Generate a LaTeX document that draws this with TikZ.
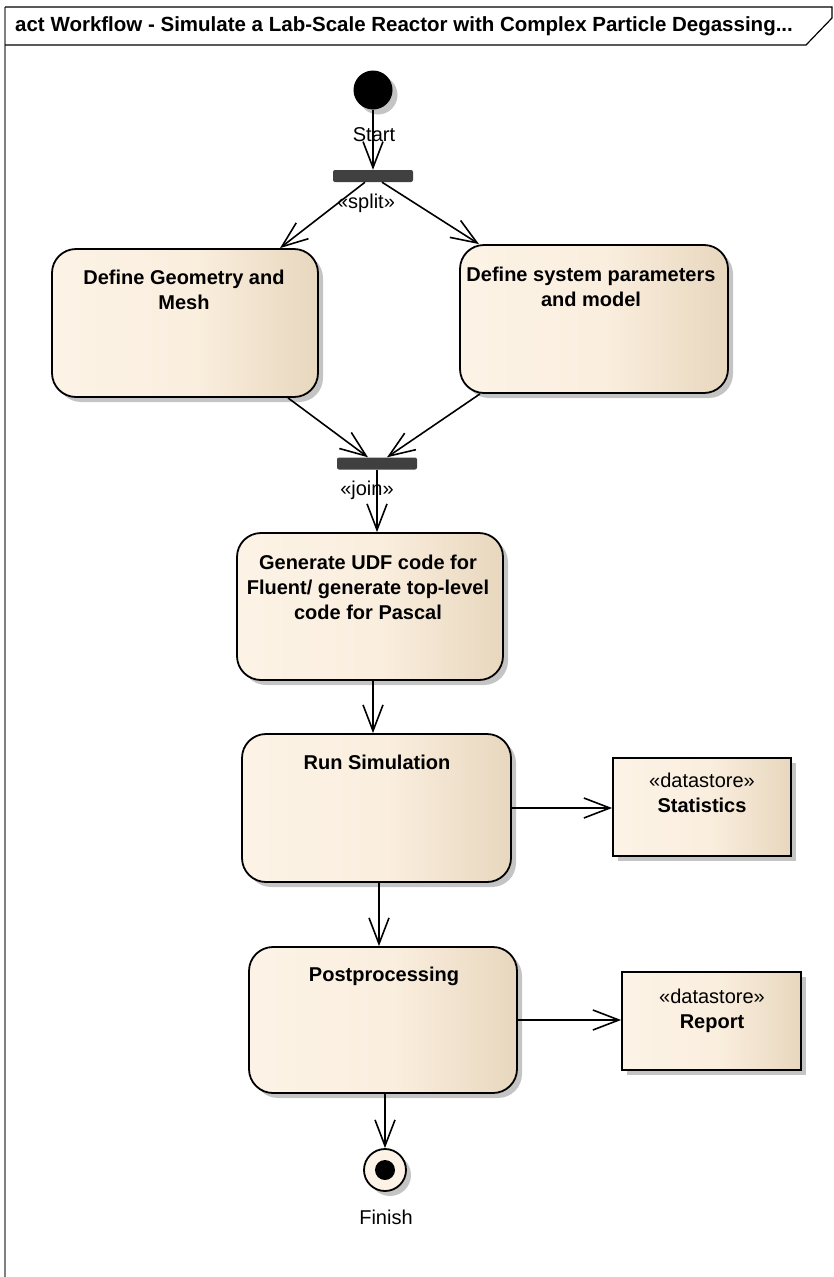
\documentclass[tikz,border=0pt]{standalone}
\usepackage{fontspec}
\setmainfont{Liberation Sans}
\usetikzlibrary{arrows.meta,shadows}

\definecolor{creamL}{RGB}{252,243,230}
\definecolor{creamM}{RGB}{250,238,222}
\definecolor{creamR}{RGB}{232,215,190}
\definecolor{shadowgray}{RGB}{196,196,196}
\definecolor{framegray}{RGB}{128,128,128}
\definecolor{bargray}{RGB}{64,64,64}

% left-to-right cream fill used by actions and datastores
\pgfdeclarehorizontalshading{actshade}{100bp}{%
  color(0bp)=(creamL); color(25bp)=(creamL); color(52bp)=(creamM);
  color(75bp)=(creamR); color(100bp)=(creamR)}

\tikzset{
  txt/.style={font=\fontsize{20}{25}\selectfont, inner sep=0pt, align=center},
  boldtxt/.style={txt, font=\fontsize{20}{25}\selectfont\bfseries},
  boxshadow/.style={general shadow={fill=shadowgray, shadow xshift=5pt, shadow yshift=-5pt}},
  action/.style={draw=black, line width=1.8pt, rounded corners=24pt, shading=actshade,
                 inner sep=0pt, boxshadow},
  datastore/.style={draw=black, line width=1.8pt, shading=actshade, inner sep=0pt, boxshadow},
  forkbar/.style={fill=bargray, rounded corners=2pt, inner sep=0pt,
                  minimum width=80pt, minimum height=12pt},
  flow/.style={line width=1.6pt, -{Straight Barb[length=26pt,width=20pt,line width=1.6pt]}},
}

\begin{document}
\begin{tikzpicture}[x=1pt,y=-1pt]
\useasboundingbox (0,0) rectangle (834,1277);

% diagram frame and title tab
\draw[framegray, line width=1.5pt] (5,7) -- (5,1277);
\draw[black, line width=1.2pt] (5,7) -- (832,7) -- (832,18) -- (806,45) -- (5,45);
\node[boldtxt, font=\fontsize{20.5}{25}\selectfont\bfseries, anchor=west] (title) at (15,26)
  {act Workflow - Simulate a Lab-Scale Reactor with Complex Particle Degassing...};

% initial node and split
\node[circle, fill=black, minimum size=39pt, inner sep=0pt, boxshadow] (start) at (373,90) {};
\node[txt] (startlbl) at (374,135) {Start};
\node[forkbar] (split) at (373,176) {};
\node[txt] (splitlbl) at (366,203) {«split»};

% parallel actions
\node[action, minimum width=266pt, minimum height=148pt] (geom) at (185,323) {};
\node[boldtxt, anchor=north] (geomtxt) at (184,270) {Define Geometry and\\Mesh};
\node[action, minimum width=268pt, minimum height=148pt] (sys) at (594,319) {};
\node[boldtxt, anchor=north] (systxt) at (591,267) {Define system parameters\\and model};

% join
\node[forkbar] (join) at (377,463.5) {};
\node[txt] (joinlbl) at (367,490) {«join»};

% sequential actions
\node[action, minimum width=266pt, minimum height=147pt] (gen) at (370,606.5) {};
\node[boldtxt, anchor=north] (gentxt) at (368,555)
  {Generate UDF code for\\Fluent/ generate top-level\\code for Pascal};
\node[action, minimum width=269pt, minimum height=148pt] (run) at (376.5,808) {};
\node[boldtxt, anchor=north] (runtxt) at (377,755) {Run Simulation};
\node[action, minimum width=268pt, minimum height=146pt] (post) at (383,1020) {};
\node[boldtxt, anchor=north] (posttxt) at (384,967) {Postprocessing};

% datastores
\node[datastore, minimum width=178pt, minimum height=98pt] (stat) at (702,807) {};
\node[txt, anchor=north] (stattxt) at (702,773) {«datastore»\\\bfseries Statistics};
\node[datastore, minimum width=179pt, minimum height=98pt] (report) at (711.5,1021) {};
\node[txt, anchor=north] (reporttxt) at (712,989) {«datastore»\\\bfseries Report};

% final node
\node[circle, draw=black, line width=1.8pt, fill=creamL, minimum size=42pt, inner sep=0pt,
      boxshadow] (finish) at (385,1170) {};
\node[circle, fill=black, minimum size=20pt, inner sep=0pt] (finishdot) at (finish.center) {};
\node[txt] (finishlbl) at (386,1217) {Finish};

% control flows
\draw[flow] (start.south) -- (split.north);
\draw[flow] ([xshift=-8pt]split.south) -- ([xshift=95pt]geom.north);
\draw[flow] ([xshift=9pt]split.south) -- ([xshift=-115pt]sys.north);
\draw[flow] ([xshift=103pt]geom.south) -- ([xshift=-9pt]join.north);
\draw[flow] ([xshift=-114pt]sys.south) -- ([xshift=10pt]join.north);
\draw[flow] (join.south) -- (join.south |- gen.north);
\draw[flow] ([xshift=3pt]gen.south) -- ([xshift=3pt]gen.south |- run.north);
\draw[flow] ([xshift=2.5pt]run.south) -- ([xshift=2.5pt]run.south |- post.north);
\draw[flow] ([xshift=2pt]post.south) -- (finish.north);
\draw[flow] (run.east) -- (run.east -| stat.west);
\draw[flow] (post.east) -- (post.east -| report.west);
\end{tikzpicture}
\end{document}
